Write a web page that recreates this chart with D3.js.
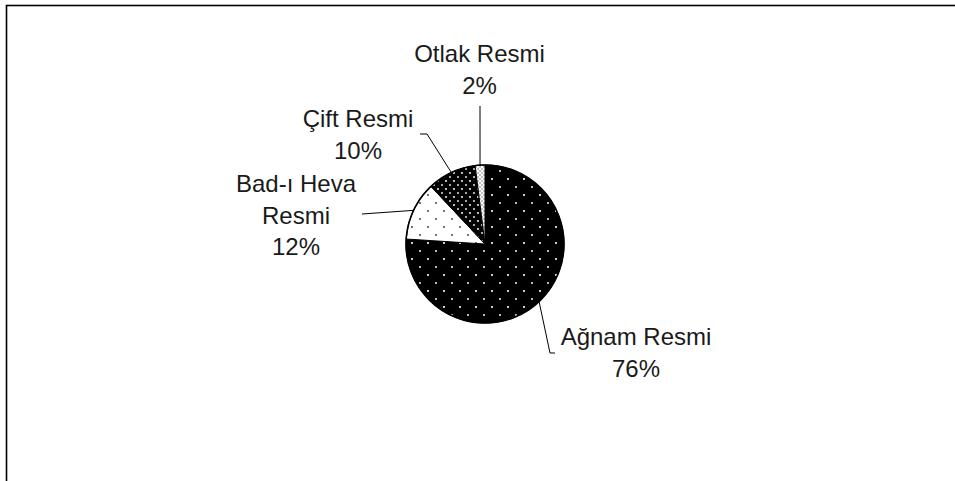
<!DOCTYPE html>
<html>
<head>
<meta charset="utf-8">
<script src="https://cdn.jsdelivr.net/npm/d3@7"></script>
<style>
  html, body { margin: 0; padding: 0; background: #fff; }
  svg { display: block; }
  text { font-family: "Liberation Sans", Arial, Helvetica, sans-serif; font-size: 24px; fill: #1a1a1a; }
</style>
</head>
<body>
<svg id="chart" width="955" height="481"></svg>
<script>
// data
const categories = ["Ağnam Resmi", "Bad-ı Heva Resmi", "Çift Resmi", "Otlak Resmi"];
const values = [76, 12, 10, 2];
const labelLines = [["Ağnam Resmi"], ["Bad-ı Heva", "Resmi"], ["Çift Resmi"], ["Otlak Resmi"]];

// layout (label anchors and leader elbows)
const labelPos = [
  {x: 636, y: 345, pts: [[550, 353], [555, 353]]},
  {x: 296, y: 192, pts: [[362, 214]]},
  {x: 358, y: 127, pts: [[427, 134], [420, 134]]},
  {x: 479.5, y: 62, pts: [[480, 106]]}
];

let svg = d3.select("#chart");
let cx = 485, cy = 244, radius = 79;
let lineHeight = 31.5;

// frame
svg.append("rect")
  .attr("x", 6.5).attr("y", 5.5)
  .attr("width", 1000).attr("height", 600)
  .attr("fill", "none").attr("stroke", "#000").attr("stroke-width", 1.6);

// patterns
let defs = svg.append("defs");
function dotPattern(id, size, bg, dot, r, ox, oy) {
  let p = defs.append("pattern")
    .attr("id", id)
    .attr("patternUnits", "userSpaceOnUse")
    .attr("width", size).attr("height", size)
    .attr("x", ox).attr("y", oy);
  p.append("rect").attr("width", size).attr("height", size).attr("fill", bg);
  p.append("circle").attr("cx", 1).attr("cy", 1).attr("r", r).attr("fill", dot);
  p.append("circle").attr("cx", size / 2 + 1).attr("cy", size / 2 + 1).attr("r", r).attr("fill", dot);
}
dotPattern("pAgnam", 16, "#000", "#e6e6e6", 1.1, 6, 14);
dotPattern("pBad", 16, "#fff", "#444", 1.0, 6, 14);
dotPattern("pCift", 8, "#000", "#d0d0d0", 1.1, 0, 0);
dotPattern("pOtlak", 4, "#fff", "#555", 0.7, 0, 0);
const fills = ["url(#pAgnam)", "url(#pBad)", "url(#pCift)", "url(#pOtlak)"];

let pie = d3.pie().sort(null).value(d => d);
let arcs = pie(values);
let arc = d3.arc().innerRadius(0).outerRadius(radius);
let edgeArc = d3.arc().innerRadius(radius).outerRadius(radius);

let g = svg.append("g").attr("transform", `translate(${cx},${cy})`);

g.selectAll("path.slice")
  .data(arcs)
  .enter()
  .append("path")
  .attr("class", "slice")
  .attr("d", arc)
  .attr("fill", (d, i) => fills[i])
  .attr("stroke", "#000")
  .attr("stroke-width", 1)
  .attr("stroke-linejoin", "round");

g.append("circle")
  .attr("r", radius)
  .attr("fill", "none")
  .attr("stroke", "#000")
  .attr("stroke-width", 1.6);

// leader lines
let line = d3.line();
svg.selectAll("path.leader")
  .data(arcs)
  .enter()
  .append("path")
  .attr("class", "leader")
  .attr("d", (d, i) => {
    let c = edgeArc.centroid(d);
    let start = [cx + c[0], cy + c[1]];
    return line([start].concat(labelPos[i].pts));
  })
  .attr("fill", "none")
  .attr("stroke", "#000")
  .attr("stroke-width", 1);

// labels
let labels = svg.selectAll("text.label")
  .data(arcs)
  .enter()
  .append("text")
  .attr("class", "label")
  .attr("text-anchor", "middle")
  .attr("x", (d, i) => labelPos[i].x)
  .attr("y", (d, i) => labelPos[i].y);

labels.each(function (d, i) {
  let t = d3.select(this);
  let lines = labelLines[i].concat([values[i] + "%"]);
  lines.forEach((s, k) => {
    t.append("tspan")
      .attr("x", labelPos[i].x)
      .attr("dy", k === 0 ? 0 : lineHeight)
      .text(s);
  });
});
</script>
</body>
</html>
